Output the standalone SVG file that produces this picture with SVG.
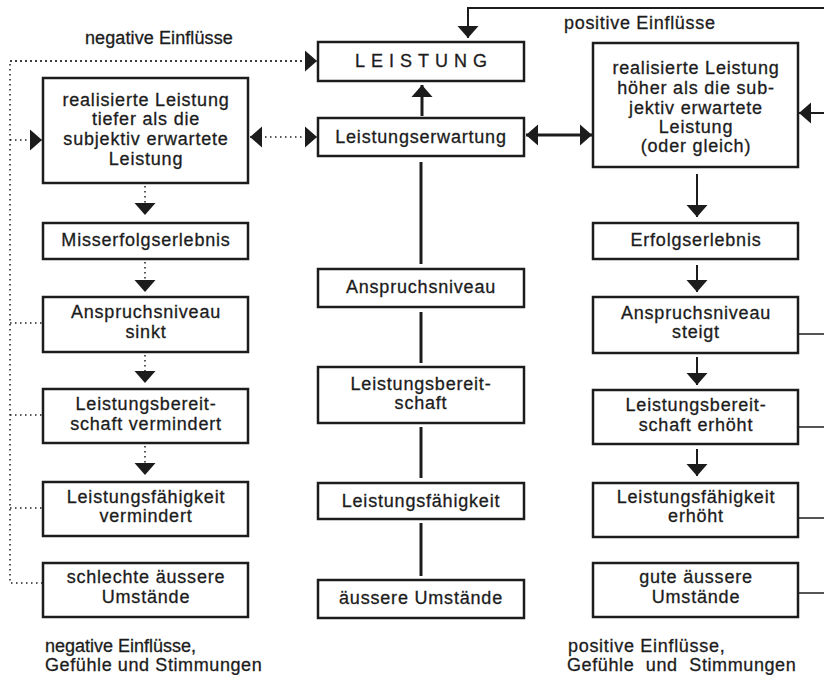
<svg xmlns="http://www.w3.org/2000/svg" width="824" height="675" viewBox="0 0 824 675">
<style>
.bx{fill:#fff;stroke:#1c1c1c;stroke-width:2.5}
.t{font-family:"Liberation Sans",Arial,Helvetica,sans-serif;font-size:18px;fill:#1c1c1c;stroke:#1c1c1c;stroke-width:0.3;letter-spacing:0.8px;text-anchor:middle}
.l{font-family:"Liberation Sans",Arial,Helvetica,sans-serif;font-size:18px;fill:#1c1c1c;stroke:#1c1c1c;stroke-width:0.3}
.dot{fill:none;stroke:#1c1c1c;stroke-width:1.5;stroke-dasharray:1.5 3.5}
.sol{fill:none;stroke:#1c1c1c;stroke-width:2}
.thk{fill:none;stroke:#1c1c1c;stroke-width:3}
.thin{fill:none;stroke:#1c1c1c;stroke-width:1.5}
</style>
<defs>
<marker id="ah" viewBox="0 -11 12 22" markerWidth="12" markerHeight="22" refX="12" refY="0" orient="auto-start-reverse" markerUnits="userSpaceOnUse">
<path d="M0,-10.5 L12,0 L0,10.5 z" fill="#1c1c1c"/>
</marker>
</defs>
<rect width="824" height="675" fill="#fff"/>

<g id="connectors">
<!-- left dotted feedback -->
<polyline class="dot" points="307,61 10,61 10,583 42,583"/>
<line class="dot" x1="10" y1="140" x2="42" y2="140" marker-end="url(#ah)"/>
<line class="dot" x1="10" y1="61" x2="317" y2="61" marker-end="url(#ah)"/>
<line class="dot" x1="10" y1="323" x2="42" y2="323"/>
<line class="dot" x1="10" y1="415" x2="42" y2="415"/>
<line class="dot" x1="10" y1="508" x2="42" y2="508"/>
<line class="dot" x1="250" y1="137" x2="317" y2="137" marker-start="url(#ah)" marker-end="url(#ah)"/>
<!-- left column dotted arrows -->
<line class="dot" x1="145" y1="186" x2="145" y2="215" marker-end="url(#ah)"/>
<line class="dot" x1="145" y1="262" x2="145" y2="292" marker-end="url(#ah)"/>
<line class="dot" x1="145" y1="355" x2="145" y2="383" marker-end="url(#ah)"/>
<line class="dot" x1="145" y1="446" x2="145" y2="475" marker-end="url(#ah)"/>
<!-- center -->
<line class="thk" x1="422" y1="116" x2="422" y2="85" marker-end="url(#ah)"/>
<line class="thk" x1="421" y1="162" x2="421" y2="264"/>
<line class="thk" x1="421" y1="312" x2="421" y2="363"/>
<line class="thk" x1="421" y1="427" x2="421" y2="478"/>
<line class="thk" x1="421" y1="523" x2="421" y2="576"/>
<line class="thk" x1="526" y1="135" x2="592" y2="135" marker-start="url(#ah)" marker-end="url(#ah)"/>
<!-- top right feedback -->
<polyline class="sol" points="824,8 468,8 468,38" marker-end="url(#ah)"/>
<line class="sol" x1="824" y1="113" x2="799" y2="113" marker-end="url(#ah)"/>
<line class="thin" x1="798" y1="334" x2="824" y2="334"/>
<line class="thin" x1="798" y1="427" x2="824" y2="427"/>
<line class="thin" x1="798" y1="518" x2="824" y2="518"/>
<line class="thin" x1="798" y1="593" x2="824" y2="593"/>
<!-- right column arrows -->
<line class="sol" x1="697" y1="174" x2="697" y2="217" marker-end="url(#ah)"/>
<line class="sol" x1="697" y1="265" x2="697" y2="292" marker-end="url(#ah)"/>
<line class="sol" x1="697" y1="357" x2="697" y2="385" marker-end="url(#ah)"/>
<line class="sol" x1="697" y1="449" x2="697" y2="476" marker-end="url(#ah)"/>
</g>

<g id="labels">
<text class="l" x="85" y="44" style="letter-spacing:0.1px">negative Einflüsse</text>
<text class="l" x="564" y="29" style="letter-spacing:0.7px">positive Einflüsse</text>
<text class="l" x="45" y="652">negative Einflüsse,</text>
<text class="l" x="45" y="671" style="letter-spacing:0.6px">Gefühle und Stimmungen</text>
<text class="l" x="568" y="652" style="letter-spacing:0.7px">positive Einflüsse,</text>
<text class="l" x="567" y="671" style="letter-spacing:0.6px;word-spacing:6px">Gefühle und Stimmungen</text>
</g>

<g id="leistung">
<rect class="bx" x="318" y="42" width="206" height="39"/>
<text class="t" x="424" y="67" style="letter-spacing:6px">LEISTUNG</text>
</g>
<g id="leistungserwartung">
<rect class="bx" x="318" y="118" width="206" height="38"/>
<text class="t" x="421" y="143">Leistungserwartung</text>
</g>
<g id="anspruchsniveau">
<rect class="bx" x="318" y="269" width="206" height="38"/>
<text class="t" x="421" y="293">Anspruchsniveau</text>
</g>
<g id="leistungsbereitschaft">
<rect class="bx" x="318" y="367" width="206" height="56"/>
<text class="t" x="421" y="390">Leistungsbereit-</text>
<text class="t" x="421" y="409">schaft</text>
</g>
<g id="leistungsfaehigkeit">
<rect class="bx" x="318" y="483" width="206" height="36"/>
<text class="t" x="421" y="507">Leistungsfähigkeit</text>
</g>
<g id="aeussere-umstaende">
<rect class="bx" x="318" y="580" width="206" height="38"/>
<text class="t" x="421" y="604">äussere Umstände</text>
</g>

<g id="real-tiefer">
<rect class="bx" x="43" y="78" width="205" height="105"/>
<text class="t" x="146" y="106">realisierte Leistung</text>
<text class="t" x="146" y="125">tiefer als die</text>
<text class="t" x="146" y="145">subjektiv erwartete</text>
<text class="t" x="146" y="165">Leistung</text>
</g>
<g id="misserfolg">
<rect class="bx" x="43" y="223" width="205" height="36"/>
<text class="t" x="146" y="246">Misserfolgserlebnis</text>
</g>
<g id="anspruch-sinkt">
<rect class="bx" x="43" y="297" width="205" height="55"/>
<text class="t" x="146" y="318">Anspruchsniveau</text>
<text class="t" x="146" y="338">sinkt</text>
</g>
<g id="bereitschaft-vermindert">
<rect class="bx" x="43" y="389" width="205" height="54"/>
<text class="t" x="146" y="410">Leistungsbereit-</text>
<text class="t" x="146" y="430">schaft vermindert</text>
</g>
<g id="faehigkeit-vermindert">
<rect class="bx" x="43" y="482" width="205" height="54"/>
<text class="t" x="146" y="503">Leistungsfähigkeit</text>
<text class="t" x="146" y="522">vermindert</text>
</g>
<g id="schlechte-umstaende">
<rect class="bx" x="43" y="563" width="205" height="54"/>
<text class="t" x="146" y="583">schlechte äussere</text>
<text class="t" x="146" y="603">Umstände</text>
</g>

<g id="real-hoeher">
<rect class="bx" x="593" y="43" width="205" height="124"/>
<text class="t" x="696" y="74">realisierte Leistung</text>
<text class="t" x="696" y="94">höher als die sub-</text>
<text class="t" x="696" y="114">jektiv erwartete</text>
<text class="t" x="696" y="133">Leistung</text>
<text class="t" x="696" y="152">(oder gleich)</text>
</g>
<g id="erfolg">
<rect class="bx" x="593" y="223" width="205" height="36"/>
<text class="t" x="696" y="246">Erfolgserlebnis</text>
</g>
<g id="anspruch-steigt">
<rect class="bx" x="593" y="297" width="205" height="56"/>
<text class="t" x="696" y="319">Anspruchsniveau</text>
<text class="t" x="696" y="338">steigt</text>
</g>
<g id="bereitschaft-erhoeht">
<rect class="bx" x="593" y="390" width="205" height="54"/>
<text class="t" x="696" y="411">Leistungsbereit-</text>
<text class="t" x="696" y="431">schaft erhöht</text>
</g>
<g id="faehigkeit-erhoeht">
<rect class="bx" x="593" y="483" width="205" height="54"/>
<text class="t" x="696" y="503">Leistungsfähigkeit</text>
<text class="t" x="696" y="522">erhöht</text>
</g>
<g id="gute-umstaende">
<rect class="bx" x="593" y="563" width="205" height="54"/>
<text class="t" x="696" y="583">gute äussere</text>
<text class="t" x="696" y="603">Umstände</text>
</g>
</svg>
